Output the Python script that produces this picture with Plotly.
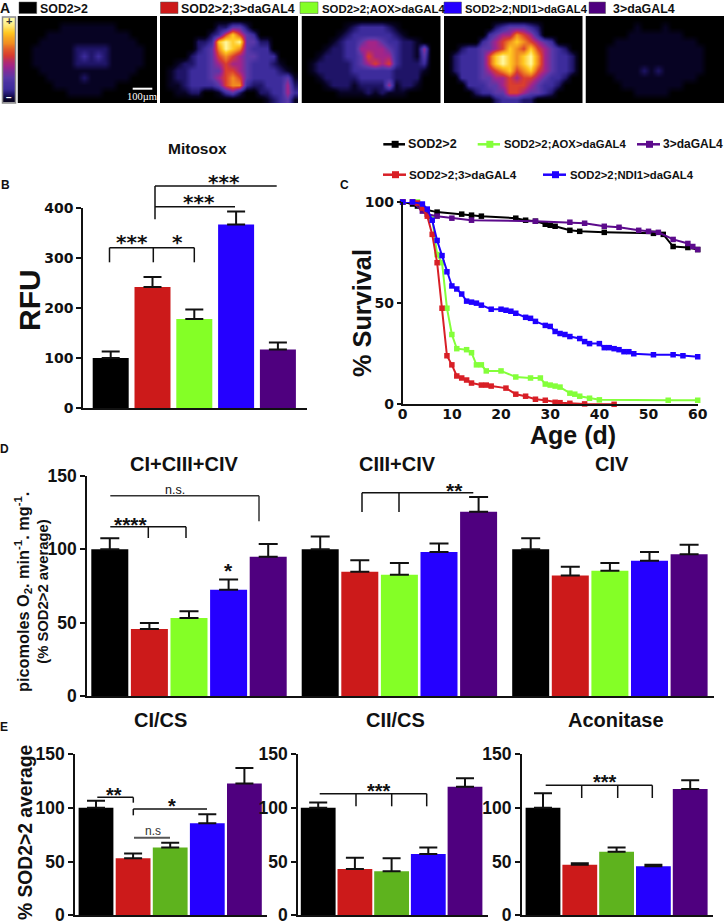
import plotly.graph_objects as go

W, H = 726, 924
SANS = "Liberation Sans"
WIDE = "DejaVu Sans"

# ---- shared categories / colours
genotypes = ["SOD2>2", "SOD2>2;3>daGAL4", "SOD2>2;AOX>daGAL4", "SOD2>2;NDI1>daGAL4", "3>daGAL4"]
bar_colors = ["#000000", "#CC1A1A", "#84FF26", "#2500FF", "#4F007F"]
bar_colors_e = ["#000000", "#CC1A1A", "#5EB31E", "#2500FF", "#4F007F"]
line_colors = {"black": "#000000", "red": "#D81F26", "green": "#84FF3A", "blue": "#1F00FF", "purple": "#5C0A8C"}

# ---- panel B
mitosox_vals = [100, 242, 178, 367, 117]
mitosox_err = [13, 20, 19, 26, 14]

# ---- panel C (age, % survival)
black_age = [0, 2, 3, 5, 7, 12, 14, 16, 23, 25, 27, 29, 30, 31, 34, 36, 41, 51, 53, 55, 58, 60]
black_surv = [100, 99, 98, 96, 95, 94, 93.5, 93, 92, 91, 90.5, 89, 88.5, 88, 86, 85.5, 85, 84.5, 84, 78, 77.5, 76.5]
purple_age = [0, 2, 4, 5, 7, 10, 14, 27, 34, 37, 41, 44, 48, 50, 52, 55, 58, 59, 60]
purple_surv = [100, 100, 95.5, 94, 93, 92, 91, 90.5, 90, 89.5, 88, 87.5, 86, 85.5, 85, 81.5, 79.5, 78, 76.5]
red_age = [0, 2, 3, 4, 5, 6, 7, 8, 9, 10, 11, 12, 13, 14, 16, 17, 18, 21, 23, 25, 27, 29, 31, 32, 34, 37, 43]
red_surv = [100, 100, 99.5, 97, 93, 84, 70, 47.5, 24, 19.5, 14, 13, 12, 10.5, 9.5, 9.5, 9, 8, 5, 4, 2.5, 2, 1, 0.8, 0.5, 0.2, 0]
green_age = [0, 3, 4, 5, 6, 7, 8, 9, 10, 11, 13, 14, 15, 16, 17, 20, 23, 26, 28, 29, 30, 31, 32, 34, 35, 36, 38, 40, 54, 60]
green_surv = [100, 100, 98, 95, 92, 74, 70, 47.5, 34.5, 27.5, 27, 25.5, 19.5, 19.5, 16.5, 16.5, 13.5, 13, 13, 10, 9.5, 9, 8.5, 5.5, 5, 4, 3, 2.2, 2, 2]
blue_age = [0, 2, 4, 5, 6, 7, 8, 9, 10, 11, 12, 13, 14, 15, 16, 18, 20, 21, 22, 23, 25, 26, 27, 29, 30, 31, 32, 33, 34, 36, 37, 38, 40, 41, 42, 43, 44, 45, 46, 47, 51, 55, 57, 60]
blue_surv = [100, 100, 99, 96.5, 91, 81, 73.5, 65.5, 58.5, 57, 54.5, 51, 50.5, 50, 49, 47, 47, 46.5, 46, 45, 43, 42.5, 41, 39, 38.5, 36, 35, 34.5, 33.5, 32.5, 31, 30, 30, 28, 28, 27.5, 27, 26, 26, 25, 24.5, 24.5, 24, 23.5]

# ---- panel D
d_ci_vals = [100, 45.7, 53.2, 72.4, 95]
d_ci_err = [7.5, 4.1, 4.6, 7.1, 8.7]
d_ciii_vals = [100, 84.7, 82.6, 98.2, 125.6]
d_ciii_err = [8.7, 7.8, 8, 5.7, 10]
d_civ_vals = [100, 82.2, 85.4, 92.2, 96.6]
d_civ_err = [7.5, 5.9, 5.2, 6, 6.6]

# ---- panel E
e_ci_vals = [100, 53, 63, 85.5, 122.5]
e_ci_err = [6.5, 4.5, 4.5, 8.5, 14.5]
e_cii_vals = [100, 43, 41, 57, 119.5]
e_cii_err = [5, 10.5, 12, 6, 8]
e_aco_vals = [100, 47, 59, 45.5, 117.5]
e_aco_err = [13.5, 1.5, 4, 1.5, 8]

# ---- panel A intensity maps, digits 0-9, read by eye on a coarse grid
brain_sod2 = ["00000000000000000000", "00000011111111000000", "00001111111111110000", "00011111111111111000",
              "00111111222221111100", "00111111232321111100", "00111111222221111100", "00011111111111111000",
              "00001111121111110000", "00000111111111000000", "00000001111100000000", "00000000000000000000"]
brain_sod2_3 = ["00000000000000000000", "00000000224420000000", "00000002368643000000", "00000223898944220000",
                "00000234798743330000", "00002334676544333000", "00122334565543332100", "01223334466543333210",
                "01223334567643333341", "01123333467732233352", "00112200134200223353", "00000000000000012341"]
brain_aox = ["00000000000000000000", "00000012333321000000", "00000123333332100000", "00001233455433221000",
             "00012233555543221500", "00122233465553221400", "01222223456563222300", "01222223333332222100",
             "00122222333332222000", "00012221222251221000", "00000111121211100000", "00000000000000000000"]
brain_ndi1 = ["00000000000000000000", "00000002344432000000", "00000034557653000000", "00000345678765430000",
              "00233445687686543200", "02333468987897543320", "02333468987897543320", "02333456786786543320",
              "00333445565665433200", "00033344566654332000", "00002334466544320000", "00000002333220000000"]
brain_3 = ["00000000000000000000", "00000001000100000000", "00000011111111000000", "00001111111111110000",
           "00011111111111111000", "00011111111111111000", "00011111111111111000", "00011111212111111000",
           "00001111111111110000", "00000111111111000000", "00000001111100000000", "00000000000000000000"]
scale_levels = [9, 8.6, 8, 7.4, 7, 6.4, 6, 5.4, 5, 4.4, 4, 3.4, 3, 2, 1]

fire = [[0.0, "#000000"], [0.11, "#070322"], [0.22, "#1E1466"], [0.33, "#3C2C9C"], [0.44, "#5A38A8"],
        [0.55, "#A0248C"], [0.66, "#D83A30"], [0.77, "#F08820"], [0.88, "#FFC820"], [1.0, "#FFF8A0"]]

fig = go.Figure()
layout = {}
shapes = []
annots = []
axis_n = [0]


def fx(px):
    return px / W


def fy(py):
    return 1 - py / H


def add_axes(x0, x1, ytop, ybot):
    axis_n[0] += 1
    n = axis_n[0]
    s = "" if n == 1 else str(n)
    layout["xaxis" + s] = dict(domain=[fx(x0), fx(x1)], anchor="y" + s, automargin=False, ticklabeloverflow="allow")
    layout["yaxis" + s] = dict(domain=[fy(ybot), fy(ytop)], anchor="x" + s, automargin=False, ticklabeloverflow="allow")
    return n, s


def line(x0, y0, x1, y1, color="#111111", width=1.5):
    shapes.append(dict(type="line", xref="paper", yref="paper", x0=fx(x0), x1=fx(x1), y0=fy(y0), y1=fy(y1),
                       line=dict(color=color, width=width)))


def rect(x0, y0, x1, y1, fill, border=None, bw=1):
    shapes.append(dict(type="rect", xref="paper", yref="paper", x0=fx(x0), x1=fx(x1), y0=fy(y0), y1=fy(y1),
                       fillcolor=fill, line=dict(color=border or fill, width=bw if border else 0)))


def text(x, y, s, size, bold=True, family=SANS, color="#111111", angle=0, anchor="center"):
    annots.append(dict(x=fx(x), y=fy(y), xref="paper", yref="paper", text=s, showarrow=False, textangle=angle,
                       xanchor=anchor, yanchor="middle", borderpad=0,
                       font=dict(size=size, family=family, color=color, weight="bold" if bold else "normal")))


def stars(x, y, s, size, family=SANS):
    text(x, y + size * (0.08 if family == WIDE else 0.12), s, size, True, family)


def bars(x_left, x_right, ytop, ybot, ymax, first_center, pitch, groups, bw_px, cap, colors, tick_font, ticks):
    """groups: list of (center offset px, values, errors)"""
    n, s = add_axes(x_left, x_right, ytop, ybot)
    xlo = (x_left - first_center) / pitch
    xhi = (x_right - first_center) / pitch
    for off, vals, errs in groups:
        xs = [off / pitch + i for i in range(len(vals))]
        fig.add_trace(go.Bar(x=xs, y=vals, width=bw_px / pitch, marker=dict(color=colors, line=dict(width=0)),
                             hovertext=genotypes, showlegend=False,
                             error_y=dict(type="data", symmetric=False, array=errs, arrayminus=[0] * len(errs),
                                          color="#111111", thickness=2, width=cap),
                             xaxis="x" + s, yaxis="y" + s))
    layout["xaxis" + s].update(range=[xlo, xhi], showgrid=False, zeroline=False, showticklabels=False, ticks="",
                               showline=True, linecolor="#111111", linewidth=2)
    layout["yaxis" + s].update(range=[0, ymax], showgrid=False, zeroline=False, tickvals=ticks, ticks="outside",
                               ticklen=5, tickwidth=2, tickcolor="#111111", showline=True, linecolor="#111111",
                               linewidth=2, tickfont=tick_font)


# ---- Panel A
img_boxes = [(17.5, 157), (160, 298), (301.5, 441), (444, 582.5), (585.5, 724)]
brains = [brain_sod2, brain_sod2_3, brain_aox, brain_ndi1, brain_3]
for (x0, x1), rows in zip(img_boxes, brains):
    n, s = add_axes(x0, x1, 16, 103)
    z = [[int(c) for c in r] for r in rows]
    fig.add_trace(go.Heatmap(z=z, zmin=0, zmax=9, colorscale=fire, showscale=False, zsmooth="best",
                             hoverinfo="skip", xaxis="x" + s, yaxis="y" + s))
    layout["xaxis" + s].update(visible=False, range=[-0.5, 19.5])
    layout["yaxis" + s].update(visible=False, range=[11.5, -0.5])
n, s = add_axes(3, 15, 17.5, 102.5)
fig.add_trace(go.Heatmap(z=[[v] for v in scale_levels], zmin=0, zmax=9, colorscale=fire, showscale=False,
                         zsmooth="best", hoverinfo="skip", xaxis="x" + s, yaxis="y" + s))
layout["xaxis" + s].update(visible=False)
layout["yaxis" + s].update(visible=False, autorange="reversed")
rect(2.5, 17, 15.5, 103, "rgba(0,0,0,0)", "#8A8A8A", 1.5)
text(8.8, 21, "+", 11, True, color="#333333")
text(8.8, 97.5, "−", 10, True, color="#FFFFFF")
line(132.7, 88.7, 152.3, 88.7, "#FFFFFF", 2)
text(141.5, 96.3, "100µm", 10.5, False, "Liberation Serif", "#FFFFFF")

swatches = [(19, 36.7, 38.7, 12.4), (160.5, 178, 180, 12.4), (300, 318, 320.5, 11.4), (444, 461.5, 464, 11.2),
            (589, 605.5, 612, 12.4)]
for (a, b, t, fs), name, c in zip(swatches, genotypes, bar_colors):
    rect(a, 2, b, 13.5, c, "#555555", 0.5)
    text(t, 8.5, name, fs, True, anchor="left")
text(5, 8, "A", 14)

# ---- Panel B
bars(83.3, 307, 208, 408, 400, 110.7, 41.8, [(0, mitosox_vals, mitosox_err)], 36, 9, bar_colors,
     dict(family=WIDE, size=14, color="#111111", weight="bold"), [0, 100, 200, 300, 400])
text(197, 149, "Mitosox", 15.5)
text(29, 300, "RFU", 30, angle=-90)
text(5, 185, "B", 12)
line(109.5, 247.7, 194.3, 247.7)
for xb in (109.5, 153.3, 194.3):
    line(xb, 247.7, xb, 262.3)
line(155, 186, 276.7, 186)
line(155, 186, 155, 219.3)
line(155, 206.7, 235, 206.7)
stars(132, 240.7, "***", 20, WIDE)
stars(177, 240.7, "*", 20, WIDE)
stars(199, 200.7, "***", 20, WIDE)
stars(224, 180.7, "***", 20, WIDE)

# ---- Panel C
n, s = add_axes(402.7, 697.7, 202, 404.3)
for age, surv, col, nm in [(black_age, black_surv, "black", genotypes[0]), (green_age, green_surv, "green", genotypes[2]),
                           (purple_age, purple_surv, "purple", genotypes[4]), (red_age, red_surv, "red", genotypes[1]),
                           (blue_age, blue_surv, "blue", genotypes[3])]:
    fig.add_trace(go.Scatter(x=age, y=surv, mode="lines+markers", name=nm, showlegend=False, cliponaxis=False,
                             line=dict(color=line_colors[col], width=2),
                             marker=dict(symbol="square", size=5.5, color=line_colors[col]),
                             xaxis="x" + s, yaxis="y" + s))
tf = dict(family=WIDE, size=14, color="#111111", weight="bold")
layout["xaxis" + s].update(range=[0, 60], tickvals=[0, 10, 20, 30, 40, 50, 60], showgrid=False, zeroline=False,
                           ticks="", ticklabelstandoff=-4, showline=True,
                           linecolor="#111111", linewidth=2, tickfont=tf)
layout["yaxis" + s].update(range=[0, 100], tickvals=[0, 50, 100], showgrid=False, zeroline=False,
                           ticks="outside", ticklen=4, tickwidth=2, tickcolor="#111111", showline=True,
                           linecolor="#111111", linewidth=2, tickfont=tf)
text(572.7, 435, "Age (d)", 25)
text(362, 313, "% Survival", 25.3, angle=-90)
text(344, 185, "C", 12)
c_legend = [(383.3, 405, 144.3, 407.3, 0, "black", 12.6), (477.7, 500, 144.3, 502.7, 2, "green", 11.3),
            (637, 660, 144.3, 661.7, 4, "purple", 12), (383, 406, 174.7, 407.7, 1, "red", 11.7),
            (543, 566, 174.7, 568.7, 3, "blue", 11.3)]
for a, b, y, t, i, col, fs in c_legend:
    c = line_colors[col]
    line(a, y, b, y, c, 2.5)
    m = (a + b) / 2 + 1
    rect(m - 3.5, y - 3.5, m + 3.5, y + 3.5, c)
    text(t, y, genotypes[i], fs, True, anchor="left")

# ---- Panel D
bars(87.3, 714, 476, 696, 150, 109.8, 39.6,
     [(0, d_ci_vals, d_ci_err), (210.4, d_ciii_vals, d_ciii_err), (420.9, d_civ_vals, d_civ_err)],
     37, 9.5, bar_colors, dict(family=SANS, size=17.5, color="#111111", weight="bold"), [0, 50, 100, 150])
text(184, 464, "CI+CIII+CIV", 20)
text(397, 464, "CIII+CIV", 20)
text(611.7, 464, "CIV", 20)
text(4, 449, "D", 12)
text(23, 592, "picomoles O<sub>2</sub>. min<sup>-1</sup>. mg<sup>-1</sup>.", 16.3, True, angle=-90)
text(42.7, 592, "(% SOD2>2 average)", 14.8, True, angle=-90)
line(110.3, 495.7, 259, 495.7, "#333333", 1.5)
line(259, 495.7, 259, 521.3, "#333333", 1.5)
text(175, 490, "n.s.", 12.5, False)
line(110.3, 526.7, 186, 526.7)
line(148.3, 526.7, 148.3, 538)
line(186, 526.7, 186, 538)
stars(131, 521.7, "****", 21)
stars(228.7, 567.7, "*", 21)
line(362, 492.7, 473.3, 492.7)
line(362, 492.7, 362, 512)
line(399, 492.7, 399, 512)
stars(455, 488.3, "**", 21)

# ---- Panel E
etf = dict(family=SANS, size=17.5, color="#111111", weight="bold")
bars(75.3, 267.3, 754, 915.3, 150, 96, 37.1, [(0, e_ci_vals, e_ci_err)], 34.8, 9, bar_colors_e, etf, [0, 50, 100, 150])
bars(298.3, 487.7, 754, 915.3, 150, 318.2, 36.7, [(0, e_cii_vals, e_cii_err)], 34.8, 9, bar_colors_e, etf, [0, 50, 100, 150])
bars(522, 712.7, 754, 915.3, 150, 543, 36.8, [(0, e_aco_vals, e_aco_err)], 34.8, 9, bar_colors_e, etf, [0, 50, 100, 150])
text(160, 720, "CI/CS", 20)
text(395, 720, "CII/CS", 20)
text(616, 720, "Aconitase", 20)
text(4, 727, "E", 12)
text(25, 832, "% SOD2>2 average", 19.3, True, angle=-90)
line(97.3, 797.3, 133.3, 797.3)
line(133.3, 797.3, 133.3, 802.7)
stars(114, 792.7, "**", 20)
line(133.3, 809, 207, 809)
line(133.3, 809, 133.3, 815.3)
stars(172.3, 804, "*", 20)
line(134, 837.7, 170, 837.7, "#555555", 2)
text(152.7, 831, "n.s", 12, False, color="#333333")
line(319.7, 793.7, 426.7, 793.7)
for xb in (356, 391.7, 426.7):
    line(xb, 793.7, xb, 806.3)
stars(378.7, 788.3, "***", 20)
line(545.7, 785.3, 652.3, 785.3)
for xb in (581.7, 617.7, 652.3):
    line(xb, 785.3, xb, 798)
stars(605, 780, "***", 20)

fig.update_layout(template="none", width=W, height=H, margin=dict(l=0, r=0, t=0, b=0, pad=0), paper_bgcolor="white",
                  plot_bgcolor="white", barmode="overlay", showlegend=False, shapes=shapes, annotations=annots,
                  **layout)
fig.write_html("out.html", config={"displayModeBar": False}, post_script="document.body.style.margin='0';")
